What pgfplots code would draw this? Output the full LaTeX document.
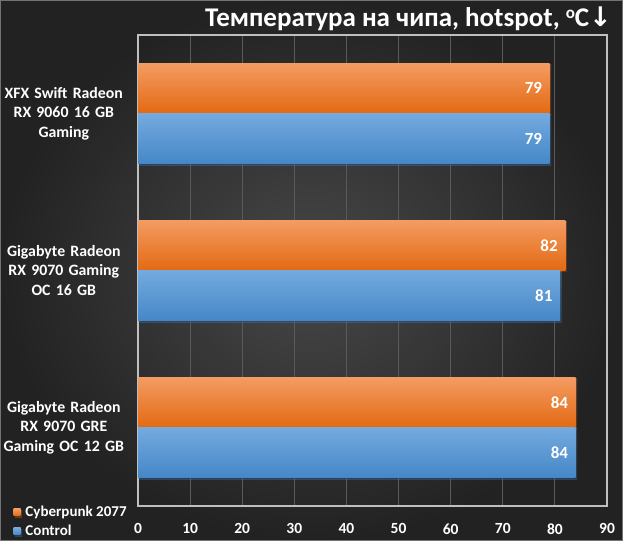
\documentclass[border=0pt]{standalone}
\usepackage{fontspec}
\setmainfont{Carlito}
\newfontfamily\arrowfont{DejaVu Sans}
\usepackage{pgfplots}
\pgfplotsset{compat=1.18}
\definecolor{bgin}{HTML}{484848}
\definecolor{bgout}{HTML}{222222}
\definecolor{gridc}{HTML}{5A5A5A}
\definecolor{framec}{HTML}{BFBFBF}
\definecolor{orTop}{HTML}{F49C63}
\definecolor{orMid}{HTML}{F27F2A}
\definecolor{orBot}{HTML}{E36A12}
\definecolor{blTop}{HTML}{74AADF}
\definecolor{blMid}{HTML}{5A9CDA}
\definecolor{blBot}{HTML}{4587C7}
\pgfplotsset{
  orbar/.style={bar shift=0.16, draw=none, top color=orTop, middle color=orMid, bottom color=orBot,
    preaction={fill=black, fill opacity=0.35, transform canvas={xshift=1.5bp, yshift=-1.5bp}}},
  blbar/.style={bar shift=-0.16, draw=none, top color=blTop, middle color=blMid, bottom color=blBot,
    preaction={fill=black, fill opacity=0.35, transform canvas={xshift=1.5bp, yshift=-1.5bp}}},
}
\begin{document}
\begin{tikzpicture}[x=1bp,y=1bp]
\shade[inner color=bgin, outer color=bgout] (0,0) rectangle (623,541);
\draw[black!55, line width=1bp] (0.5,0.5) rectangle (622.5,540.5);
\begin{axis}[
  at={(138bp,35bp)}, anchor=south west,
  scale only axis, width=469bp, height=471bp,
  xbar,
  xmin=0, xmax=90, ymin=-0.5, ymax=2.5,
  xtick={0,10,...,90},
  ytick={0,1,2},
  yticklabels={{Gigabyte Radeon\\RX 9070 GRE\\Gaming OC 12 GB},{Gigabyte Radeon\\RX 9070 Gaming\\OC 16 GB},{XFX Swift Radeon\\RX 9060 16 GB\\Gaming}},
  major tick length=0pt,
  xmajorgrids, grid style={gridc, line width=1bp},
  axis line style={framec, line width=1.3bp},
  /pgf/number format/assume math mode=true,
  xticklabel style={text=white, font=\bfseries\fontsize{15.5bp}{17bp}\selectfont, inner sep=0pt, yshift=-17.5bp},
  yticklabel style={text=white, font=\bfseries\fontsize{15.8bp}{19.5bp}\selectfont, align=center, text width=126bp, inner sep=0pt, xshift=-11bp},
  bar width=0.32,
  nodes near coords,
  every node near coord/.append style={text=white, font=\bfseries\fontsize{17bp}{18bp}\selectfont, anchor=east, inner sep=0pt, xshift=-7.5bp},
  legend style={at={(rel axis cs:-0.268,0.006)}, anchor=north west, draw=none, fill=none, text=white, font=\bfseries\fontsize{15bp}{16bp}\selectfont, row sep=3bp, inner sep=1bp},
  legend cell align=left,
  legend image code/.code={\fill[#1] (0bp,-3.6bp) rectangle (7.2bp,3.6bp); \path (10bp,0bp);},
]
\addplot[orbar] coordinates {(79,2)};
\addplot[blbar] coordinates {(79,2)};
\addplot[orbar, forget plot] coordinates {(82,1)};
\addplot[blbar, forget plot] coordinates {(81,1)};
\addplot[orbar, forget plot] coordinates {(84,0)};
\addplot[blbar, forget plot] coordinates {(84,0)};
\legend{Cyberpunk 2077, Control}
\end{axis}
\node[anchor=base east, text=white, font=\bfseries\fontsize{27bp}{30bp}\selectfont, inner sep=0pt] at (612,514) {Температура на чипа, hotspot, \raisebox{0.3em}{\fontsize{17bp}{17bp}\selectfont o}C{\arrowfont↓}};
\pgfresetboundingbox
\useasboundingbox (0,0) rectangle (623,541);
\end{tikzpicture}
\end{document}
